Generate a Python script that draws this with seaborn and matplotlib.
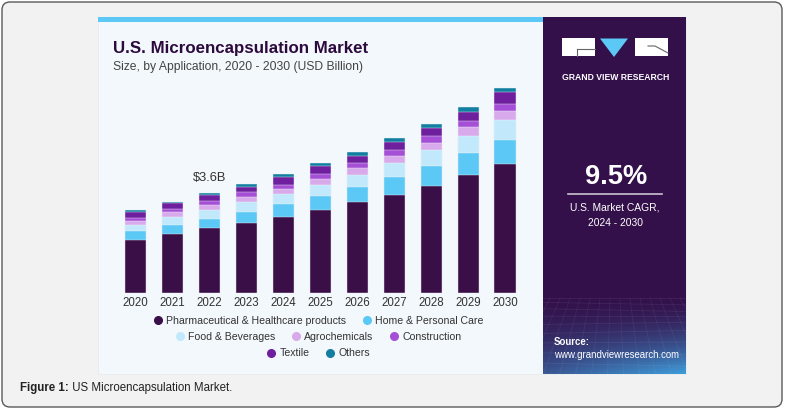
import numpy as np
import pandas as pd
import seaborn as sns
import matplotlib.pyplot as plt
from matplotlib import font_manager
from matplotlib.lines import Line2D
from matplotlib.patches import Rectangle, Polygon, FancyBboxPatch
from matplotlib.colors import to_rgb

# data (USD billion)
years = [str(y) for y in range(2020, 2031)]
segments = ["Pharmaceutical & Healthcare products", "Home & Personal Care",
            "Food & Beverages", "Agrochemicals", "Construction", "Textile", "Others"]
pharma = [1.89, 2.13, 2.32, 2.52, 2.73, 2.98, 3.27, 3.53, 3.86, 4.24, 4.65]
home = [0.35, 0.33, 0.35, 0.41, 0.48, 0.51, 0.55, 0.65, 0.72, 0.81, 0.87]
food = [0.22, 0.28, 0.32, 0.35, 0.36, 0.41, 0.44, 0.52, 0.56, 0.61, 0.71]
agro = [0.13, 0.17, 0.17, 0.18, 0.19, 0.22, 0.25, 0.24, 0.27, 0.31, 0.34]
construction = [0.10, 0.11, 0.14, 0.17, 0.14, 0.17, 0.16, 0.21, 0.23, 0.23, 0.26]
textile = [0.22, 0.21, 0.23, 0.20, 0.27, 0.27, 0.28, 0.29, 0.32, 0.34, 0.40]
others = [0.06, 0.06, 0.07, 0.09, 0.12, 0.12, 0.12, 0.14, 0.14, 0.17, 0.16]
colors = ["#3a0e47", "#5bc8f5", "#c2e9fb", "#d9aaeb", "#a54fd6", "#6e1f9e", "#137fa0"]
label_year = "2022"
label_text = "$3.6B"

df = pd.DataFrame({"year": years})
for name, vals in zip(segments, [pharma, home, food, agro, construction, textile, others]):
    df[name] = vals
cum = df[segments].cumsum(axis=1)
cum["year"] = df["year"]

# fonts: condensed face if the system has it
names = {f.name for f in font_manager.fontManager.ttflist}
NARROW = "Liberation Sans Narrow" in names
narrow = ["Liberation Sans Narrow", "Liberation Sans", "DejaVu Sans"] if NARROW else ["Liberation Sans", "DejaVu Sans"]
k = 1.0 if NARROW else 0.84
plt.rcParams["font.family"] = ["Liberation Sans", "DejaVu Sans"]

W, H = 785, 411
fig = plt.figure(figsize=(W / 100, H / 100), dpi=100)
fig.patch.set_facecolor("white")

# background / decoration axes in pixel coordinates
bg = fig.add_axes([0, 0, 1, 1], zorder=0)
bg.axis("off")
bg.add_patch(FancyBboxPatch((2, 2), 780, 405, boxstyle="round,pad=0,rounding_size=8",
                            fc="#f2f2f2", ec="#5a5a5a", lw=1.0))
bg.add_patch(Rectangle((97.5, 17), 588.5, 357, fc="#f3f8fc", ec="#e6e9ec", lw=0.5))
bg.add_patch(Rectangle((97.5, 17), 445.5, 5, fc="#5bc8f5", ec="none"))
bg.add_patch(Rectangle((543, 17), 143, 357, fc="#33104a", ec="none"))

# bottom gradient of the side panel
ty = np.linspace(0, 1, 80)[:, None]
tx = np.linspace(0, 1, 143)[None, :]
a = np.clip(ty ** 1.7 * (0.5 + 0.5 * tx), 0, 1)
c0, c1 = np.array(to_rgb("#33104a")), np.array(to_rgb("#3f9ddb"))
img = c0 + (c1 - c0) * a[..., None]
bg.imshow(img, extent=[543, 686, 374, 294], aspect="auto", zorder=1, interpolation="bilinear")
for i in range(10):
    yy = 298 + (i / 9) ** 1.3 * 76
    bg.plot([543, 686], [yy, yy + 3 * np.sin(i)], color="white", alpha=0.07, lw=0.6, zorder=2)
for xx in np.linspace(530, 700, 18):
    bg.plot([xx, xx + (xx - 614) * 0.6], [298, 374], color="white", alpha=0.06, lw=0.6, zorder=2)

# logo
bg.add_patch(Rectangle((562, 38.5), 33, 18, fc="white", ec="none", zorder=3))
bg.add_patch(Rectangle((635, 38.5), 33, 18, fc="white", ec="none", zorder=3))
bg.add_patch(Polygon([(600, 38.5), (628, 38.5), (614, 57)], closed=True, fc="#5bc8f5", ec="none", zorder=3))
bg.plot([577, 595], [49, 49], color="#666", lw=0.8, zorder=4)
bg.plot([577, 577], [49, 56.5], color="#666", lw=0.8, zorder=4)
bg.plot([648, 655, 668], [46, 46, 53], color="#666", lw=0.8, zorder=4)
bg.text(615.5, 78, "GRAND VIEW RESEARCH", color="white", fontsize=6.2, fontweight="bold",
        ha="center", va="center", zorder=4)

# side panel texts
bg.text(616, 177, "9.5%", color="white", fontsize=19.6, fontweight="bold", ha="center", va="center", zorder=4)
bg.plot([568, 662], [194.3, 194.3], color="#c9c2cf", lw=1.2, zorder=4)
bg.text(615, 207.5, "U.S. Market CAGR,", color="white", fontsize=8.8 * k, family=narrow,
        ha="center", va="center", zorder=4)
bg.text(615, 223, "2024 - 2030", color="white", fontsize=8.8 * k, family=narrow,
        ha="center", va="center", zorder=4)
bg.text(554, 345, "Source:", color="white", fontsize=8.3 * k, fontweight="bold", family=narrow,
        ha="left", va="baseline", zorder=4)
bg.text(554, 358, "www.grandviewresearch.com", color="white", fontsize=8.3 * k, family=narrow,
        ha="left", va="baseline", zorder=4)

# titles
bg.text(113, 52.7, "U.S. Microencapsulation Market", color="#2d0a3e", fontsize=12.2,
        fontweight="bold", ha="left", va="baseline")
bg.text(113, 70, "Size, by Application, 2020 - 2030 (USD Billion)", color="#444444", fontsize=8.7,
        ha="left", va="baseline")

# caption
cap = bg.text(20.5, 391, "Figure 1:", color="#222222", fontsize=8.3, fontweight="bold",
              ha="left", va="baseline")
bg.annotate(" US Microencapsulation Market.", xy=(1, 0), xycoords=cap, color="#222222",
            fontsize=8.3, ha="left", va="bottom")

bg.set_xlim(0, W)
bg.set_ylim(H, 0)

# bar chart axes
base_px, top_px = 292.7, 80.0
ax = fig.add_axes([117 / W, 1 - base_px / H, 406.5 / W, (base_px - top_px) / H], zorder=2)
ax.patch.set_alpha(0)
for name, col in reversed(list(zip(segments, colors))):
    sns.barplot(data=cum, x="year", y=name, color=col, saturation=1, width=0.57,
                edgecolor="#eef3f7", linewidth=0.3, ax=ax)
ax.set_xlim(-0.5, 10.5)
ax.set_ylim(0, (base_px - top_px) * 0.0361)
ax.set_xlabel("")
ax.set_ylabel("")
ax.set_yticks([])
sns.despine(ax=ax, left=True, bottom=True)
ax.tick_params(axis="x", length=0, pad=3.3, labelsize=9.9 * k, labelcolor="#333333")
for t in ax.get_xticklabels():
    t.set_family(narrow)

i = years.index(label_year)
ax.annotate(label_text, xy=(i, cum[segments[-1]][i]), xytext=(0, 11), textcoords="offset points",
            ha="center", va="center", fontsize=11 * k, family=narrow, color="#333333")

# legend in three centred rows
handles = [Line2D([], [], marker="o", linestyle="", markersize=5.5, markerfacecolor=c,
                  markeredgecolor=c) for c in colors]
rows = [(0, 2, 1 - 321 / H), (2, 5, 1 - 336.7 / H), (5, 7, 1 - 353.3 / H)]
for s, e, yf in rows:
    leg = fig.legend(handles[s:e], segments[s:e], loc="center", bbox_to_anchor=(319 / W, yf),
                     ncol=e - s, frameon=False, handlelength=0.7, handletextpad=0.45,
                     columnspacing=1.6, borderpad=0, prop={"family": narrow, "size": 9.0 * k})
    for t in leg.get_texts():
        t.set_color("#333333")

fig.savefig("out.png", dpi=100)
